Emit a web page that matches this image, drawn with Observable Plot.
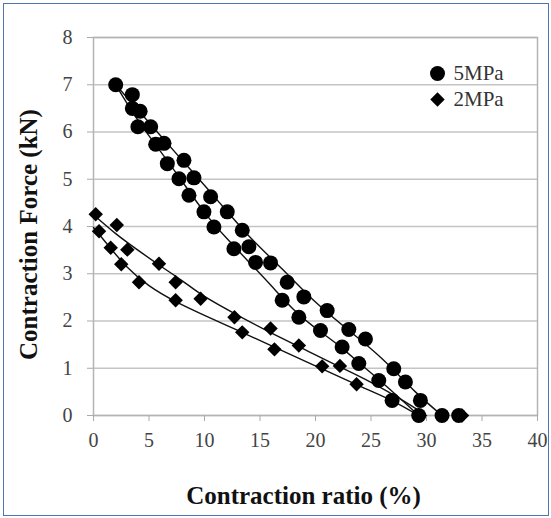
<!DOCTYPE html>
<html><head><meta charset="utf-8">
<script src="https://cdn.jsdelivr.net/npm/d3@7"></script>
<script src="https://cdn.jsdelivr.net/npm/@observablehq/plot@0.6"></script>
<style>
html,body{margin:0;padding:0;background:#fff;}
#wrap{position:relative;width:551px;height:518px;overflow:hidden;background:#fff;}
#border{position:absolute;left:3px;top:3px;width:546px;height:513px;border:1px solid #4f74b0;box-sizing:border-box;pointer-events:none;}
</style></head><body>
<div id="wrap"><div id="chart"></div><div id="border"></div></div>
<script>
// Axis ticks
const xTicks = [0, 5, 10, 15, 20, 25, 30, 35, 40];
const yTicks = [0, 1, 2, 3, 4, 5, 6, 7, 8];
const xTitle = "Contraction ratio (%)";
const yTitle = "Contraction Force (kN)";
const seriesNames = ["5MPa", "2MPa"];

// 5MPa measured points (contraction ratio %, force kN)
const p5x = [2.0, 3.5, 3.5, 4.2, 4.0, 5.15, 5.6, 6.35, 6.65, 8.15, 7.7, 9.05, 8.6, 10.55, 9.95, 12.05, 10.85, 13.4, 12.65, 14.0, 14.6, 15.95, 17.45, 17.0, 18.95, 18.5, 21.05, 20.45, 23.0, 22.4, 24.5, 23.9, 27.05, 25.7, 28.1, 26.9, 29.45, 29.3, 31.4, 32.9];
const p5y = [7.0, 6.79, 6.5, 6.44, 6.11, 6.11, 5.74, 5.76, 5.33, 5.4, 5.01, 5.03, 4.66, 4.63, 4.31, 4.31, 3.99, 3.92, 3.53, 3.57, 3.24, 3.23, 2.82, 2.44, 2.51, 2.08, 2.22, 1.8, 1.82, 1.45, 1.62, 1.1, 0.99, 0.74, 0.71, 0.32, 0.32, 0.0, 0.0, 0.0];

// 2MPa measured points
const p2x = [0.2, 0.5, 2.1, 1.55, 3.05, 2.5, 5.9, 4.1, 7.4, 7.4, 9.65, 12.7, 13.4, 15.95, 16.3, 18.5, 20.6, 22.2, 23.7, 29.3, 33.2];
const p2y = [4.26, 3.9, 4.03, 3.55, 3.51, 3.2, 3.21, 2.82, 2.82, 2.44, 2.47, 2.08, 1.76, 1.84, 1.4, 1.48, 1.04, 1.05, 0.66, 0.0, 0.0];

// Trend lines
const t5UpX = [2, 5, 8, 11, 14, 17, 20, 23, 26, 29, 31.4];
const t5UpY = [7.0, 6.2, 5.4, 4.6, 3.8, 3.1, 2.4, 1.8, 1.2, 0.5, 0.0];
const t5LoX = [2, 4, 6, 8, 10, 12, 14, 16, 18, 20, 22, 24, 26, 28, 29.3];
const t5LoY = [7.0, 6.25, 5.6, 4.95, 4.3, 3.75, 3.25, 2.75, 2.25, 1.85, 1.5, 1.1, 0.7, 0.28, 0.0];
const t2UpX = [0, 2, 4, 6, 8, 10, 13, 16, 19, 22, 25, 28, 30];
const t2UpY = [4.25, 3.85, 3.5, 3.17, 2.85, 2.52, 2.12, 1.75, 1.4, 1.05, 0.7, 0.3, 0.0];
const t2LoX = [0, 1.5, 3, 5, 7.5, 10, 13, 16, 20, 24, 27, 29.3];
const t2LoY = [3.98, 3.55, 3.15, 2.75, 2.4, 2.12, 1.8, 1.48, 1.05, 0.62, 0.3, 0.0];

const pts5 = p5x.map((x, i) => ({x, y: p5y[i]}));
const pts2 = p2x.map((x, i) => ({x, y: p2y[i]}));
const mk = (xs, ys) => xs.map((x, i) => ({x, y: ys[i]}));
const lines = [mk(t5UpX, t5UpY), mk(t5LoX, t5LoY), mk(t2UpX, t2UpY), mk(t2LoX, t2LoY)];

const serif = "Liberation Serif, Times New Roman, serif";
const diamond = d3.symbolDiamond2 || "diamond";

const chart = Plot.plot({
  width: 551,
  height: 518,
  marginLeft: 93,
  marginRight: 14,
  marginTop: 37,
  marginBottom: 103,
  style: {fontFamily: serif, background: "white"},
  x: {domain: [0, 40]},
  y: {domain: [0, 8]},
  marks: [
    Plot.gridY(yTicks, {stroke: "#c4c4c4", strokeOpacity: 1, strokeWidth: 1.5}),
    Plot.frame({stroke: "#b4b4b4", strokeWidth: 1.5}),
    Plot.axisX({ticks: xTicks, tickSize: 6, tickPadding: 11, fontSize: 20, fontFamily: serif, stroke: "#aaa", fill: "#444", label: null}),
    Plot.axisY({ticks: yTicks, tickSize: 6, tickPadding: 15, fontSize: 20, fontFamily: serif, stroke: "#aaa", fill: "#444", label: null}),
    ...lines.map(l => Plot.line(l, {x: "x", y: "y", stroke: "#111", strokeWidth: 1.4, curve: "natural"})),
    Plot.dot(pts2, {x: "x", y: "y", symbol: diamond, r: 6.5, fill: "#000", stroke: "none"}),
    Plot.dot(pts5, {x: "x", y: "y", r: 7.5, fill: "#000", stroke: "none"}),
    // legend
    Plot.dot([seriesNames[0]], {frameAnchor: "top-right", dx: -100, dy: 36, r: 7.5, fill: "#000", stroke: "none"}),
    Plot.dot([seriesNames[1]], {frameAnchor: "top-right", dx: -100, dy: 62, r: 6.5, symbol: diamond, fill: "#000", stroke: "none"}),
    Plot.text([seriesNames[0]], {text: d => d, frameAnchor: "top-right", dx: -84, dy: 36, textAnchor: "start", lineAnchor: "middle", fontSize: 21, fontFamily: serif, fill: "#333"}),
    Plot.text([seriesNames[1]], {text: d => d, frameAnchor: "top-right", dx: -84, dy: 62, textAnchor: "start", lineAnchor: "middle", fontSize: 21, fontFamily: serif, fill: "#333"}),
    // axis titles
    Plot.text([xTitle], {text: d => d, frameAnchor: "bottom", dx: -12, dy: 88, textAnchor: "middle", lineAnchor: "bottom", fontSize: 25, fontWeight: "bold", fontFamily: serif, fill: "#111"}),
    Plot.text([yTitle], {text: d => d, frameAnchor: "left", dx: -57, dy: 8, rotate: -90, textAnchor: "middle", lineAnchor: "bottom", fontSize: 25, fontWeight: "bold", fontFamily: serif, fill: "#111"})
  ]
});
document.getElementById("chart").append(chart);
</script>
</body></html>
